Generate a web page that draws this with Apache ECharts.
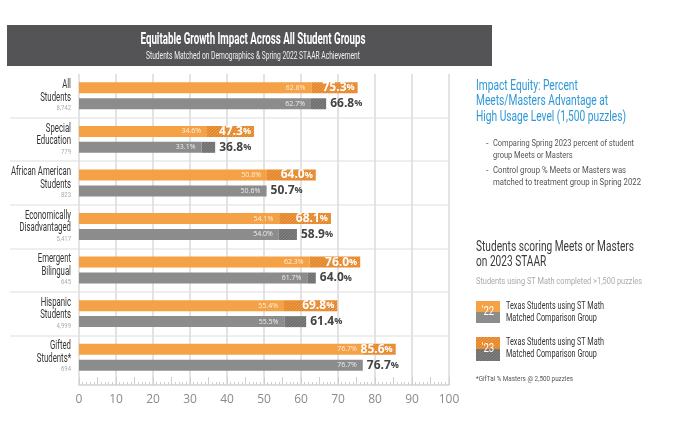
<!DOCTYPE html>
<html>
<head>
<meta charset="utf-8">
<script src="https://cdn.jsdelivr.net/npm/echarts@6/dist/echarts.min.js"></script>
<style>
  html, body { margin: 0; padding: 0; background: #fff; }
  #chart { width: 680px; height: 430px; }
</style>
</head>
<body>
<div id="chart"></div>
<script>
// student groups, matched n, and % Meets/Masters
var groups = ['All\nStudents', 'Special\nEducation', 'African American\nStudents', 'Economically\nDisadvantaged', 'Emergent\nBilingual', 'Hispanic\nStudents', 'Gifted\nStudents*'];
var counts = ['8,742', '779', '823', '5,417', '645', '4,999', '694'];
var stmath2022 = [62.8, 34.6, 50.8, 54.1, 62.3, 55.4, 76.7];
var stmath2023 = [75.3, 47.3, 64.0, 68.1, 76.0, 69.8, 85.6];
var comp2022 = [62.7, 33.1, 50.6, 54.0, 61.7, 55.5, 76.7];
var comp2023 = [66.8, 36.8, 50.7, 58.9, 64.0, 61.4, 76.7];

var ORANGE = '#F5A145', GRAY = '#8C8C8C';

function hatch(bg, fg) {
	var c = document.createElement('canvas');
	c.width = 3; c.height = 3;
	var g = c.getContext('2d');
	g.fillStyle = bg;
	g.fillRect(0, 0, 3, 3);
	g.fillStyle = fg;
	g.fillRect(0, 2, 1, 1);
	g.fillRect(1, 1, 1, 1);
	g.fillRect(2, 0, 1, 1);
	return c;
}
var orangeHatch = { image: hatch('#E3882E', '#EE9C46'), repeat: 'repeat' };
var grayHatch = { image: hatch('#707070', '#838383'), repeat: 'repeat' };

// the reference uses a condensed face, so texts get squeezed horizontally
var mctx = document.createElement('canvas').getContext('2d');
function fit(lines, font, target) {
	mctx.font = font;
	var w = 0;
	lines.split('\n').forEach(function (l) { w = Math.max(w, mctx.measureText(l).width); });
	return target / w;
}
function txt(x, y, text, size, weight, color, scale, extra) {
	var el = {
		type: 'text', x: x, y: y, scaleX: scale || 1,
		style: {
			text: text, fontFamily: 'Roboto', fontSize: size, fontWeight: weight,
			fill: color, align: 'left', verticalAlign: 'top'
		}
	};
	if (extra) Object.keys(extra).forEach(function (k) { el.style[k] = extra[k]; });
	return el;
}
function ftxt(x, y, text, size, weight, color, target, extra) {
	return txt(x, y, text, size, weight, color, fit(text, weight + ' ' + size + 'px Roboto', target), extra);
}

function diff(a, b) {
	return a.map(function (v, i) { return +(b[i] - v).toFixed(1); });
}

var chart = echarts.init(document.getElementById('chart'));

var smallLabel = {
	show: true, position: 'insideRight', distance: 6,
	color: 'rgba(255,255,255,0.85)', fontSize: 7, fontFamily: 'Open Sans',
	formatter: function (p) { return p.value.toFixed(1) + '%'; }
};
function bigLabel(arr, pos, color) {
	return {
		show: true, position: pos, distance: pos == 'right' ? 4 : 3,
		formatter: function (p) { return '{v|' + arr[p.dataIndex].toFixed(1) + '}{p|%}'; },
		rich: {
			v: { fontSize: 12, fontWeight: 'bold', color: color, fontFamily: 'Open Sans' },
			p: { fontSize: 9, fontWeight: 'bold', color: color, fontFamily: 'Open Sans' }
		}
	};
}

chart.setOption({
	animation: false,
	grid: [
		{ left: 79, right: 231, top: 74, bottom: 45 },
		{ left: 79, right: 231, top: 74, bottom: 51 },
		{ left: 10, right: 231, top: 74, bottom: 51 }
	],
	xAxis: [
		{
			gridIndex: 0, type: 'value', min: 0, max: 100, interval: 10,
			axisLine: { show: true, lineStyle: { color: '#d4d4d4', width: 1.5 } },
			axisTick: { show: false },
			axisLabel: { color: '#8a8a8a', fontSize: 12, fontFamily: 'Open Sans', margin: 9 },
			splitLine: { show: true, lineStyle: { color: '#e0e0e0', width: 1.8 } }
		},
		{
			gridIndex: 0, type: 'value', min: 0, max: 100, interval: 5, position: 'bottom',
			axisLine: { show: false },
			axisTick: { show: true, inside: true, length: 8, lineStyle: { color: '#d0d0d0' } },
			minorTick: { show: true, splitNumber: 5, length: 3, lineStyle: { color: '#d0d0d0' } },
			axisLabel: { show: false },
			splitLine: { show: false }
		},
		{ gridIndex: 1, type: 'value', min: 0, max: 100, show: false },
		{ gridIndex: 2, type: 'value', min: 0, max: 100, show: false }
	],
	yAxis: [
		{ gridIndex: 0, type: 'value', min: 0, max: 1, show: false },
		{
			gridIndex: 1, type: 'category', inverse: true, data: groups,
			axisLine: { show: false }, axisTick: { show: false }, axisLabel: { show: false }
		},
		{
			gridIndex: 2, type: 'category', inverse: true, data: groups,
			axisLine: { show: false }, axisTick: { show: false }, axisLabel: { show: false },
			splitLine: { show: true, showMinLine: false, showMaxLine: false, lineStyle: { color: '#e8e8e8', width: 1.5 } }
		}
	],
	series: [
		{
			name: "ST Math '22", type: 'bar', xAxisIndex: 2, yAxisIndex: 1, stack: 'st',
			barWidth: 11, barGap: '45%', data: stmath2022,
			itemStyle: { color: ORANGE }, label: smallLabel
		},
		{
			name: "ST Math '23", type: 'bar', xAxisIndex: 2, yAxisIndex: 1, stack: 'st',
			barWidth: 11, data: diff(stmath2022, stmath2023),
			itemStyle: { color: orangeHatch }, label: bigLabel(stmath2023, 'insideRight', '#fff')
		},
		{
			name: "Comparison '22", type: 'bar', xAxisIndex: 2, yAxisIndex: 1, stack: 'cmp',
			barWidth: 11, data: comp2022,
			itemStyle: { color: GRAY }, label: smallLabel
		},
		{
			name: "Comparison '23", type: 'bar', xAxisIndex: 2, yAxisIndex: 1, stack: 'cmp',
			barWidth: 11, data: diff(comp2022, comp2023),
			itemStyle: { color: grayHatch }, label: bigLabel(comp2023, 'right', '#444')
		}
	]
});

var graphics = [
	{ type: 'rect', shape: { x: 7, y: 25, width: 485, height: 41 }, style: { fill: '#545457' } },
	ftxt(253, 40, 'Equitable Growth Impact Across All Student Groups', 17, 'bold', '#fff', 225, { align: 'center', verticalAlign: 'middle' }),
	ftxt(253, 56, 'Students Matched on Demographics & Spring 2022 STAAR Achievement', 10.5, 'normal', '#eee', 214, { align: 'center', verticalAlign: 'middle' }),

	ftxt(476, 79, 'Impact Equity: Percent\nMeets/Masters Advantage at\nHigh Usage Level (1,500 puzzles)', 14, 'normal', '#2E98D6', 150, { lineHeight: 15.3 }),
	txt(486, 138, '-', 9, 'normal', '#555', 0, { lineHeight: 12 }),
	ftxt(493, 138, 'Comparing Spring 2023 percent of student\ngroup Meets or Masters', 9, 'normal', '#555', 141, { lineHeight: 12 }),
	txt(486, 165, '-', 9, 'normal', '#555', 0, { lineHeight: 12 }),
	ftxt(493, 165, 'Control group % Meets or Masters was\nmatched to treatment group in Spring 2022', 9, 'normal', '#555', 148, { lineHeight: 12 }),

	ftxt(476, 240, 'Students scoring Meets or Masters\non 2023 STAAR', 14, 'normal', '#3a3a3a', 158, { lineHeight: 15 }),
	ftxt(476, 277, 'Students using ST Math completed >1,500 puzzles', 9.5, 'normal', '#aaa', 166),

	{ type: 'rect', shape: { x: 476, y: 301, width: 24, height: 11 }, style: { fill: ORANGE } },
	{ type: 'rect', shape: { x: 476, y: 312, width: 24, height: 11 }, style: { fill: GRAY } },
	txt(488, 312, "'22", 12, 'normal', '#fff', 0.8, { align: 'center', verticalAlign: 'middle' }),
	ftxt(506, 301, 'Texas Students using ST Math\nMatched Comparison Group', 10, 'normal', '#333', 98, { lineHeight: 11.5 }),

	{ type: 'rect', shape: { x: 476, y: 337, width: 24, height: 12 }, style: { fill: orangeHatch } },
	{ type: 'rect', shape: { x: 476, y: 349, width: 24, height: 12 }, style: { fill: grayHatch } },
	txt(488, 349, "'23", 12, 'normal', '#fff', 0.8, { align: 'center', verticalAlign: 'middle' }),
	ftxt(506, 337, 'Texas Students using ST Math\nMatched Comparison Group', 10, 'normal', '#333', 98, { lineHeight: 11.5 }),

	ftxt(476, 375, '*GifTal % Masters @ 2,500 puzzles', 7.5, 'normal', '#555', 97)
];

// group names beside each band, placed with the category axis
var nameScale = fit('African American', '12px Roboto', 60);
groups.forEach(function (g, i) {
	var yc = chart.convertToPixel({ yAxisIndex: 1 }, i);
	graphics.push(txt(71, yc - 17, g, 12, 'normal', '#333', nameScale, { align: 'right', lineHeight: 12.5 }));
	graphics.push(txt(71, yc + 12.5, counts[i], 7, 'normal', '#aaa', 0.85, { align: 'right', verticalAlign: 'middle' }));
});

chart.setOption({ graphic: graphics });
</script>
</body>
</html>
